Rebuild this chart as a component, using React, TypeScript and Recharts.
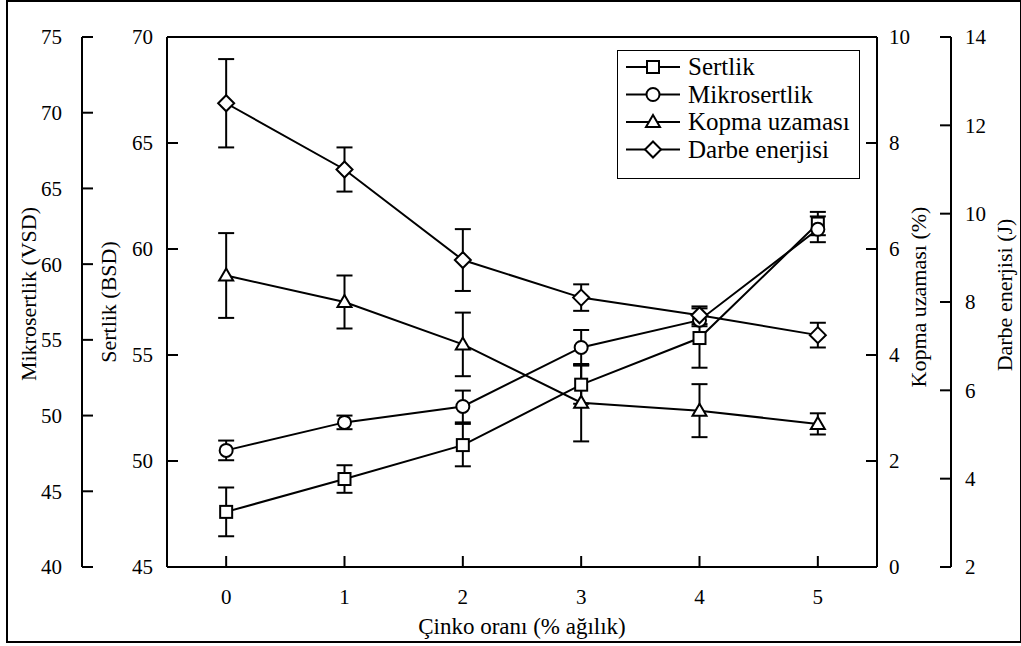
import React from 'react';
import { ComposedChart, Line, XAxis, YAxis, ErrorBar, Legend, ReferenceLine, Label } from 'recharts';

// Çinko oranı (% ağırlık)
const zinc = [0, 1, 2, 3, 4, 5];

// Sertlik (BSD)
const sertlik = [47.6, 49.15, 50.75, 53.6, 55.8, 61.2];
const sertlikErr = [1.15, 0.65, 1.0, 0.9, 1.4, 0.55];

// Mikrosertlik (VSD)
const mikro = [47.7, 49.55, 50.6, 54.5, 56.3, 62.3];
const mikroErr = [0.65, 0.45, 1.05, 1.15, 0.4, 0.85];

// Kopma uzaması (%)
const kopma = [5.5, 5.0, 4.2, 3.1, 2.95, 2.7];
const kopmaErr = [0.8, 0.5, 0.6, 0.73, 0.5, 0.2];

// Darbe enerjisi (J)
const darbe = [12.5, 11.0, 8.95, 8.1, 7.7, 7.25];
const darbeErr = [1.0, 0.5, 0.7, 0.3, 0.2, 0.28];

const seriesNames = ['Sertlik', 'Mikrosertlik', 'Kopma uzaması', 'Darbe enerjisi'];

const sTicks = [45, 50, 55, 60, 65, 70];
const mTicks = [40, 45, 50, 55, 60, 65, 70, 75];
const kTicks = [0, 2, 4, 6, 8, 10];
const dTicks = [2, 4, 6, 8, 10, 12, 14];

const data = zinc.map((z, i) => ({
  z,
  s: sertlik[i], sE: sertlikErr[i],
  m: mikro[i], mE: mikroErr[i],
  k: kopma[i], kE: kopmaErr[i],
  d: darbe[i], dE: darbeErr[i],
}));

const FONT = '"Liberation Serif", "Times New Roman", serif';
const axisLine = { stroke: '#000', strokeWidth: 2 };
const tickStyle = { fill: '#000', fontSize: 21, fontFamily: FONT };

type Kind = 'square' | 'circle' | 'triangle' | 'diamond';

function Marker({ kind, cx, cy }: { kind: Kind; cx: number; cy: number }) {
  const common = { fill: '#fff', stroke: '#000', strokeWidth: 2 };
  if (kind === 'square') return <rect x={cx - 6} y={cy - 6} width={12} height={12} {...common} />;
  if (kind === 'circle') return <circle cx={cx} cy={cy} r={6.5} {...common} />;
  if (kind === 'triangle')
    return <polygon points={`${cx},${cy - 7} ${cx + 7},${cy + 5} ${cx - 7},${cy + 5}`} {...common} />;
  return <polygon points={`${cx},${cy - 8} ${cx + 8},${cy} ${cx},${cy + 8} ${cx - 8},${cy}`} {...common} />;
}

const dot = (kind: Kind) => (props: any) => {
  const { cx, cy, index } = props;
  if (cx == null || cy == null) return <g key={index} />;
  return <Marker key={index} kind={kind} cx={cx} cy={cy} />;
};

const kinds: Kind[] = ['square', 'circle', 'triangle', 'diamond'];

// legend drawn as svg so it uses the same serif font as the axes
function LegendBox() {
  return (
    <svg width={243} height={129} style={{ display: 'block' }}>
      <rect x={0.5} y={0.5} width={242} height={128} fill="#fff" stroke="#000" strokeWidth={1} />
      {seriesNames.map((name, i) => {
        const y = 17 + i * 27.5;
        return (
          <g key={name}>
            <line x1={9} y1={y} x2={63} y2={y} stroke="#000" strokeWidth={2} />
            <Marker kind={kinds[i]} cx={36} cy={y} />
            <text x={71} y={y + 8} fontFamily={FONT} fontSize={25} fill="#000">
              {name}
            </text>
          </g>
        );
      })}
    </svg>
  );
}

export default function App() {
  return (
    <div style={{ position: 'absolute', left: 0, top: 0, width: 1021, height: 646, background: '#fff' }}>
      <div
        style={{
          position: 'absolute',
          left: 6,
          top: 0,
          width: 1016,
          height: 643,
          boxSizing: 'border-box',
          border: '2px solid #000',
        }}
      />
      <ComposedChart
        width={1021}
        height={646}
        data={data}
        margin={{ top: 37, right: 0, bottom: 0, left: 0 }}
      >
        <XAxis
          dataKey="z"
          type="number"
          domain={[-0.5, 5.5]}
          ticks={zinc}
          height={79}
          axisLine={axisLine}
          tickLine={axisLine}
          tickSize={-11}
          tickMargin={33}
          tick={tickStyle}
        >
          <Label value="Çinko oranı (% ağılık)" position="insideBottom" offset={12} fill="#000" fontSize={23} fontFamily={FONT} />
        </XAxis>
        {/* axis ids sort inner-first, which is how recharts stacks them */}
        <YAxis
          yAxisId="l1"
          orientation="left"
          width={85}
          domain={[45, 70]}
          ticks={sTicks}
          axisLine={axisLine}
          tickLine={axisLine}
          tickSize={-11}
          tickMargin={25}
          tick={tickStyle}
        >
          <Label value="Sertlik (BSD)" angle={-90} position="center" dx={-16} dy={0} fill="#000" fontSize={22} fontFamily={FONT} />
        </YAxis>
        <YAxis
          yAxisId="l2"
          orientation="left"
          width={82}
          domain={[40, 75]}
          ticks={mTicks}
          axisLine={axisLine}
          tickLine={axisLine}
          tickSize={-11}
          tickMargin={31}
          tick={tickStyle}
        >
          <Label value="Mikrosertlik (VSD)" angle={-90} position="center" dx={-13} dy={-8} fill="#000" fontSize={22} fontFamily={FONT} />
        </YAxis>
        <YAxis
          yAxisId="r1"
          orientation="right"
          width={74}
          domain={[0, 10]}
          ticks={kTicks}
          axisLine={axisLine}
          tickLine={axisLine}
          tickSize={-11}
          tickMargin={23}
          tick={tickStyle}
        >
          <Label value="Kopma uzaması (%)" angle={-90} position="center" dx={4} dy={-5} fill="#000" fontSize={22} fontFamily={FONT} />
        </YAxis>
        <YAxis
          yAxisId="r2"
          orientation="right"
          width={70}
          domain={[2, 14]}
          ticks={dTicks}
          axisLine={axisLine}
          tickLine={axisLine}
          tickSize={-11}
          tickMargin={25}
          tick={tickStyle}
        >
          <Label value="Darbe enerjisi (J)" angle={-90} position="center" dx={18} dy={-7} fill="#000" fontSize={22} fontFamily={FONT} />
        </YAxis>

        <ReferenceLine yAxisId="l1" y={70} stroke="#000" strokeWidth={2} />

        <Line yAxisId="l1" dataKey="s" type="linear" stroke="#000" strokeWidth={2} dot={dot('square')} activeDot={false} isAnimationActive={false}>
          <ErrorBar dataKey="sE" direction="y" width={8} stroke="#000" strokeWidth={2} isAnimationActive={false} />
        </Line>
        <Line yAxisId="l2" dataKey="m" type="linear" stroke="#000" strokeWidth={2} dot={dot('circle')} activeDot={false} isAnimationActive={false}>
          <ErrorBar dataKey="mE" direction="y" width={8} stroke="#000" strokeWidth={2} isAnimationActive={false} />
        </Line>
        <Line yAxisId="r1" dataKey="k" type="linear" stroke="#000" strokeWidth={2} dot={dot('triangle')} activeDot={false} isAnimationActive={false}>
          <ErrorBar dataKey="kE" direction="y" width={8} stroke="#000" strokeWidth={2} isAnimationActive={false} />
        </Line>
        <Line yAxisId="r2" dataKey="d" type="linear" stroke="#000" strokeWidth={2} dot={dot('diamond')} activeDot={false} isAnimationActive={false}>
          <ErrorBar dataKey="dE" direction="y" width={8} stroke="#000" strokeWidth={2} isAnimationActive={false} />
        </Line>

        <Legend
          layout="vertical"
          align="center"
          verticalAlign="middle"
          content={() => <LegendBox />}
          wrapperStyle={{ position: 'absolute', left: 617, top: 50, width: 243, height: 129 }}
        />
      </ComposedChart>
    </div>
  );
}
